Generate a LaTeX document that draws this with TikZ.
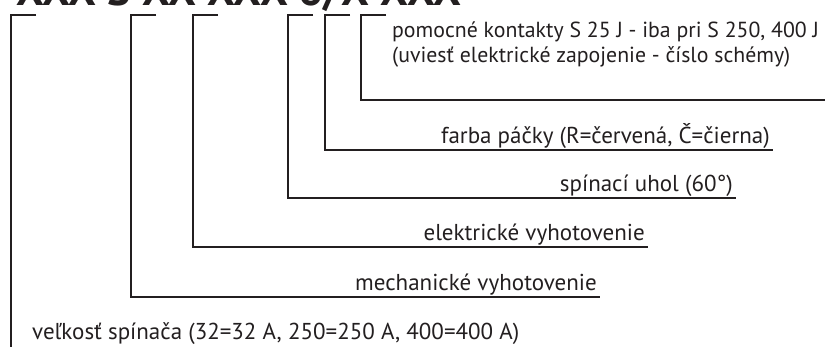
\documentclass[tikz,border=0pt]{standalone}
\usepackage{fontspec}
\setmainfont{PT Sans}
\usetikzlibrary{positioning}
\begin{document}
\begin{tikzpicture}[x=1pt,y=1pt]
  \definecolor{ink}{RGB}{35,31,32}
  \def\LCOL{ink}
  \tikzstyle{lbl} = [inner sep=0pt, text=\LCOL, font=\fontsize{23}{25}\selectfont]
  \tikzstyle{brk} = [line width=1.8pt, draw=\LCOL]
  \useasboundingbox (0,0) rectangle (825,-347);
  \clip (0,0) rectangle (825,-347);

  % type code (cut at the top edge)
  \node[inner sep=0pt, anchor=base west, text=\LCOL, font=\fontsize{44}{44}\selectfont\bfseries] (code) at (16,-6) {XXX S XX XXX 6/X XXX};

  % bracket corners and tick ends
  \coordinate (B1) at (11,-15);
  \coordinate (B2) at (131,-15);
  \coordinate (B3) at (193,-15);
  \coordinate (B4) at (288,-15);
  \coordinate (B5) at (325,-15);
  \coordinate (B6) at (361,-15);
  \coordinate (K1) at ([xshift=25pt]B1);
  \coordinate (K2) at ([xshift=25pt]B2);
  \coordinate (K3) at ([xshift=25pt]B3);
  \coordinate (K4) at ([xshift=25pt]B4);
  \coordinate (K5) at ([xshift=25pt]B5);
  \coordinate (K6) at ([xshift=25pt]B6);

  % line ends
  \coordinate (E1) at (11,-347);
  \coordinate (E2) at (600,-297);
  \coordinate (E3) at (648,-247);
  \coordinate (E4) at (736,-198);
  \coordinate (E5) at (773,-150);
  \coordinate (E6) at (825,-100);

  % labels
  \node[lbl, anchor=base west, align=left, font=\fontsize{21.8}{25}\selectfont] (L6) at (392,-63) {pomocné kontakty S 25 J - iba pri S 250, 400 J\\(uviesť elektrické zapojenie - číslo schémy)};
  \node[lbl, anchor=base east] (L5) at ([xshift=-3pt,yshift=6pt]E5) {farba páčky (R=červená, Č=čierna)};
  \node[lbl, anchor=base east] (L4) at ([xshift=-3pt,yshift=6pt]E4) {spínací uhol (60°)};
  \node[lbl, anchor=base east] (L3) at ([xshift=-3pt,yshift=6pt]E3) {elektrické vyhotovenie};
  \node[lbl, anchor=base east] (L2) at ([xshift=-3pt,yshift=6pt]E2) {mechanické vyhotovenie};
  \node[lbl, anchor=base west] (L1) at (32,-340) {veľkosť spínača (32=32 A, 250=250 A, 400=400 A)};

  % brackets
  \draw[brk] (K1) -- (B1) -- (E1);
  \draw[brk] (K2) -- (B2) |- (E2);
  \draw[brk] (K3) -- (B3) |- (E3);
  \draw[brk] (K4) -- (B4) |- (E4);
  \draw[brk] (K5) -- (B5) |- (E5);
  \draw[brk] (K6) -- (B6) |- (E6);
\end{tikzpicture}
\end{document}
